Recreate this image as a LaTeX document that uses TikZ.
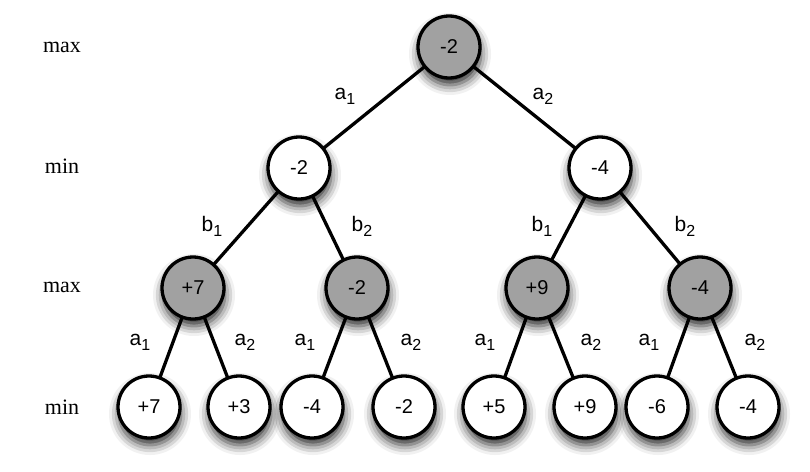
\documentclass[tikz,border=0pt]{standalone}
\usepackage{fontspec}
\setmainfont{Liberation Serif}
\newfontfamily\nodefont{Liberation Sans}
\usetikzlibrary{shadows.blur}

\newcommand{\act}[2]{#1\raisebox{-5pt}{\fontsize{16}{16}\selectfont #2}}

\tikzset{
  state/.style={circle, draw=black, line width=3.3pt, minimum size=62pt, inner sep=0pt,
    font=\nodefont\fontsize{20}{20}\selectfont,
    blur shadow={shadow xshift=1pt, shadow yshift=-7pt, shadow blur radius=10pt, shadow opacity=85}},
  maxstate/.style={state, fill=black!37},
  minstate/.style={state, fill=white},
  edge/.style={line width=3.3pt},
  lbl/.style={font=\nodefont\fontsize{21}{21}\selectfont, inner sep=0pt},
  level/.style={font=\fontsize{22}{22}\selectfont, inner sep=0pt}
}

\begin{document}
\begin{tikzpicture}[x=1pt, y=-1pt]
\useasboundingbox (0,0) rectangle (810,471);
% level names
\node[level] (lev0) at (62,47) {max};
\node[level] (lev1) at (62,166) {min};
\node[level] (lev2) at (62,287) {max};
\node[level] (lev3) at (62,407) {min};
% edges first, nodes on top
\coordinate (root) at (449,47);
\coordinate (L) at (299,168);
\coordinate (R) at (600,168);
\coordinate (LL) at (193,288);
\coordinate (LR) at (357,288);
\coordinate (RL) at (537,288);
\coordinate (RR) at (700,288);
\draw[edge] (root) -- (L);
\draw[edge] (root) -- (R);
\draw[edge] (L) -- (LL);
\draw[edge] (L) -- (LR);
\draw[edge] (R) -- (RL);
\draw[edge] (R) -- (RR);
\draw[edge] (LL) -- (149,407) coordinate (LLL);
\draw[edge] (LL) -- (239,407) coordinate (LLR);
\draw[edge] (LR) -- (312,407) coordinate (LRL);
\draw[edge] (LR) -- (404,407) coordinate (LRR);
\draw[edge] (RL) -- (494,407) coordinate (RLL);
\draw[edge] (RL) -- (585,407) coordinate (RLR);
\draw[edge] (RR) -- (657,407) coordinate (RRL);
\draw[edge] (RR) -- (748,407) coordinate (RRR);
% max nodes
\node[maxstate] (nroot) at (root) {-2};
\node[maxstate] (nLL) at (LL) {+7};
\node[maxstate] (nLR) at (LR) {-2};
\node[maxstate] (nRL) at (RL) {+9};
\node[maxstate] (nRR) at (RR) {-4};
% min nodes
\node[minstate] (nL) at (L) {-2};
\node[minstate] (nR) at (R) {-4};
\node[minstate] (nLLL) at (LLL) {+7};
\node[minstate] (nLLR) at (LLR) {+3};
\node[minstate] (nLRL) at (LRL) {-4};
\node[minstate] (nLRR) at (LRR) {-2};
\node[minstate] (nRLL) at (RLL) {+5};
\node[minstate] (nRLR) at (RLR) {+9};
\node[minstate] (nRRL) at (RRL) {-6};
\node[minstate] (nRRR) at (RRR) {-4};
% action labels
\node[lbl] (la1) at (345,96) {\act{a}{1}};
\node[lbl] (la2) at (543,96) {\act{a}{2}};
\node[lbl] (lb1) at (212,226) {\act{b}{1}};
\node[lbl] (lb2) at (362,226) {\act{b}{2}};
\node[lbl] (rb1) at (542,226) {\act{b}{1}};
\node[lbl] (rb2) at (685,226) {\act{b}{2}};
\node[lbl] (lla1) at (140,342) {\act{a}{1}};
\node[lbl] (lla2) at (245,342) {\act{a}{2}};
\node[lbl] (lra1) at (305,342) {\act{a}{1}};
\node[lbl] (lra2) at (411,342) {\act{a}{2}};
\node[lbl] (rla1) at (485,342) {\act{a}{1}};
\node[lbl] (rla2) at (591,342) {\act{a}{2}};
\node[lbl] (rra1) at (649,342) {\act{a}{1}};
\node[lbl] (rra2) at (755,342) {\act{a}{2}};
\end{tikzpicture}
\end{document}
